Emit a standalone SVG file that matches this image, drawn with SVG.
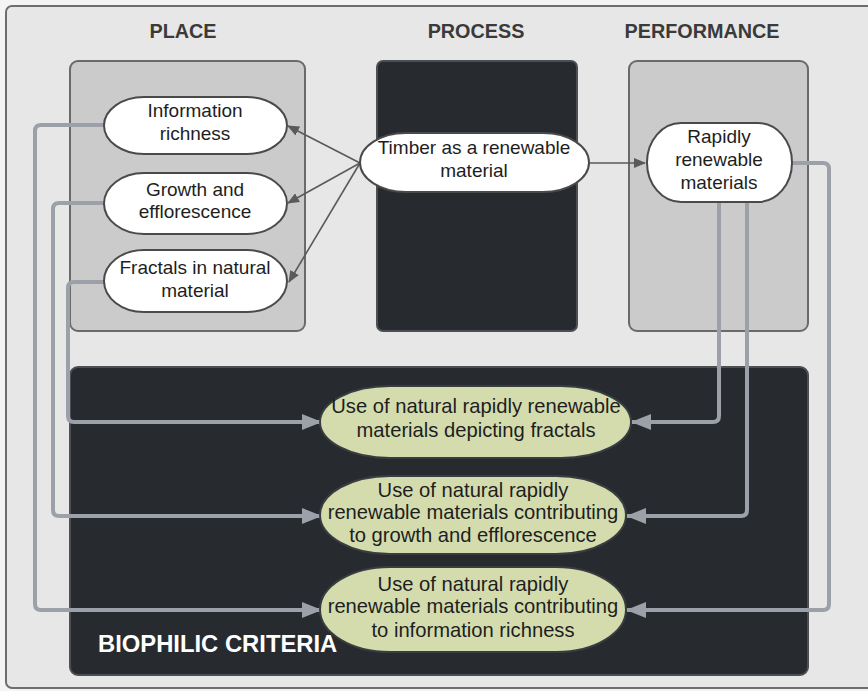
<svg xmlns="http://www.w3.org/2000/svg" width="868" height="691" viewBox="0 0 868 691">
  <defs>
    <style>
      .hdr { font-family: "Liberation Sans", Arial, sans-serif; font-weight: bold; font-size: 19.8px; fill: #3a3a3a; text-anchor: middle; }
      .lbl { font-family: "Liberation Sans", Arial, sans-serif; font-size: 19px; fill: #1e1e1e; text-anchor: middle; }
      .glbl { font-family: "Liberation Sans", Arial, sans-serif; font-size: 20.2px; fill: #1e1e1e; text-anchor: middle; }
      .node { fill: #ffffff; stroke: #4a4a4a; stroke-width: 2; }
      .crit { fill: #d4dcae; stroke: #3a3d40; stroke-width: 2; }
      .lane { fill: #cbcbcb; stroke: #6a6a6a; stroke-width: 2; }
      .dark { fill: #272b30; stroke: #4c5055; stroke-width: 2; }
      .link { fill: none; stroke: #9ca1a9; stroke-width: 4; stroke-linejoin: round; }
      .thin { fill: none; stroke: #5a5a5a; stroke-width: 1.6; }
    </style>
    <marker id="bigHead" viewBox="0 0 20 16" refX="19" refY="8" markerWidth="20" markerHeight="16" markerUnits="userSpaceOnUse" orient="auto">
      <path d="M0,0 L20,8 L0,16 Z" fill="#9ca1a9"/>
    </marker>
    <marker id="smallHead" viewBox="0 0 12 10" refX="11" refY="5" markerWidth="12" markerHeight="10" markerUnits="userSpaceOnUse" orient="auto">
      <path d="M0,0 L12,5 L0,10 Z" fill="#5a5a5a"/>
    </marker>
  </defs>

  <!-- page -->
  <rect x="0" y="0" width="868" height="691" fill="#f4f4f4"/>
  <rect x="6" y="6" width="870" height="682" rx="6" fill="#e7e7e7" stroke="#6e6e6e" stroke-width="2"/>

  <!-- column headings -->
  <text class="hdr" x="183" y="38">PLACE</text>
  <text class="hdr" x="476" y="38">PROCESS</text>
  <text class="hdr" x="702" y="38">PERFORMANCE</text>

  <!-- lanes -->
  <g id="lane-place"><rect class="lane" x="70" y="61" width="235" height="270" rx="8"/></g>
  <g id="lane-process"><rect class="dark" x="377" y="61" width="200" height="270" rx="6"/></g>
  <g id="lane-performance"><rect class="lane" x="629" y="61" width="179" height="270" rx="8"/></g>
  <g id="lane-criteria">
    <rect class="dark" x="70" y="367" width="738" height="308" rx="8"/>
    <text x="98" y="652" font-family="'Liberation Sans', Arial, sans-serif" font-weight="bold" font-size="23.8px" fill="#ffffff">BIOPHILIC CRITERIA</text>
  </g>

  <!-- connectors -->
  <g id="connectors">
    <path class="link" d="M104,125 H41 Q35,125 35,131 V604 Q35,610 41,610 H321" marker-end="url(#bigHead)"/>
    <path class="link" d="M104,203 H59 Q53,203 53,209 V510 Q53,516 59,516 H321" marker-end="url(#bigHead)"/>
    <path class="link" d="M104,282 H74 Q68,282 68,288 V416 Q68,422 74,422 H321" marker-end="url(#bigHead)"/>
    <path class="link" d="M719,202 V416 Q719,422 713,422 H632" marker-end="url(#bigHead)"/>
    <path class="link" d="M747,202 V510 Q747,516 741,516 H627" marker-end="url(#bigHead)"/>
    <path class="link" d="M792,163 H823 Q829,163 829,169 V604 Q829,610 823,610 H627" marker-end="url(#bigHead)"/>
    <path class="thin" d="M360,163 L288,126" marker-end="url(#smallHead)"/>
    <path class="thin" d="M360,163 L288,203" marker-end="url(#smallHead)"/>
    <path class="thin" d="M360,163 L289,282" marker-end="url(#smallHead)"/>
    <path class="thin" d="M589,163 H645" marker-end="url(#smallHead)"/>
  </g>

  <!-- place nodes -->
  <g id="info-richness">
    <rect class="node" x="104" y="97" width="183" height="57" rx="40" ry="28.5"/>
    <text class="lbl" x="195" y="117">Information</text>
    <text class="lbl" x="195" y="140">richness</text>
  </g>
  <g id="growth">
    <rect class="node" x="104" y="173" width="183" height="61" rx="40" ry="30.5"/>
    <text class="lbl" x="195" y="196">Growth and</text>
    <text class="lbl" x="195" y="218">efflorescence</text>
  </g>
  <g id="fractals">
    <rect class="node" x="104" y="250" width="183" height="62" rx="40" ry="31"/>
    <text class="lbl" x="195" y="274">Fractals in natural</text>
    <text class="lbl" x="195" y="297">material</text>
  </g>

  <!-- process node -->
  <g id="timber">
    <rect class="node" x="360" y="133" width="229" height="59" rx="46" ry="29.5"/>
    <text class="lbl" x="474" y="154">Timber as a renewable</text>
    <text class="lbl" x="474" y="177">material</text>
  </g>

  <!-- performance node -->
  <g id="rapidly-renewable">
    <rect class="node" x="647" y="123" width="145" height="79" rx="34" ry="39.5"/>
    <text class="lbl" x="719" y="143">Rapidly</text>
    <text class="lbl" x="719" y="166">renewable</text>
    <text class="lbl" x="719" y="189">materials</text>
  </g>

  <!-- criteria nodes -->
  <g id="crit-fractals">
    <rect class="crit" x="320" y="386" width="311" height="72" rx="70" ry="36"/>
    <text class="glbl" x="476" y="413">Use of natural rapidly renewable</text>
    <text class="glbl" x="476" y="437">materials depicting fractals</text>
  </g>
  <g id="crit-growth">
    <rect class="crit" x="320" y="476" width="306" height="78" rx="70" ry="39"/>
    <text class="glbl" x="473" y="497">Use of natural rapidly</text>
    <text class="glbl" x="473" y="519">renewable materials contributing</text>
    <text class="glbl" x="473" y="542">to growth and efflorescence</text>
  </g>
  <g id="crit-info">
    <rect class="crit" x="320" y="567" width="306" height="85" rx="70" ry="42.5"/>
    <text class="glbl" x="473" y="591">Use of natural rapidly</text>
    <text class="glbl" x="473" y="613">renewable materials contributing</text>
    <text class="glbl" x="473" y="637">to information richness</text>
  </g>
</svg>
